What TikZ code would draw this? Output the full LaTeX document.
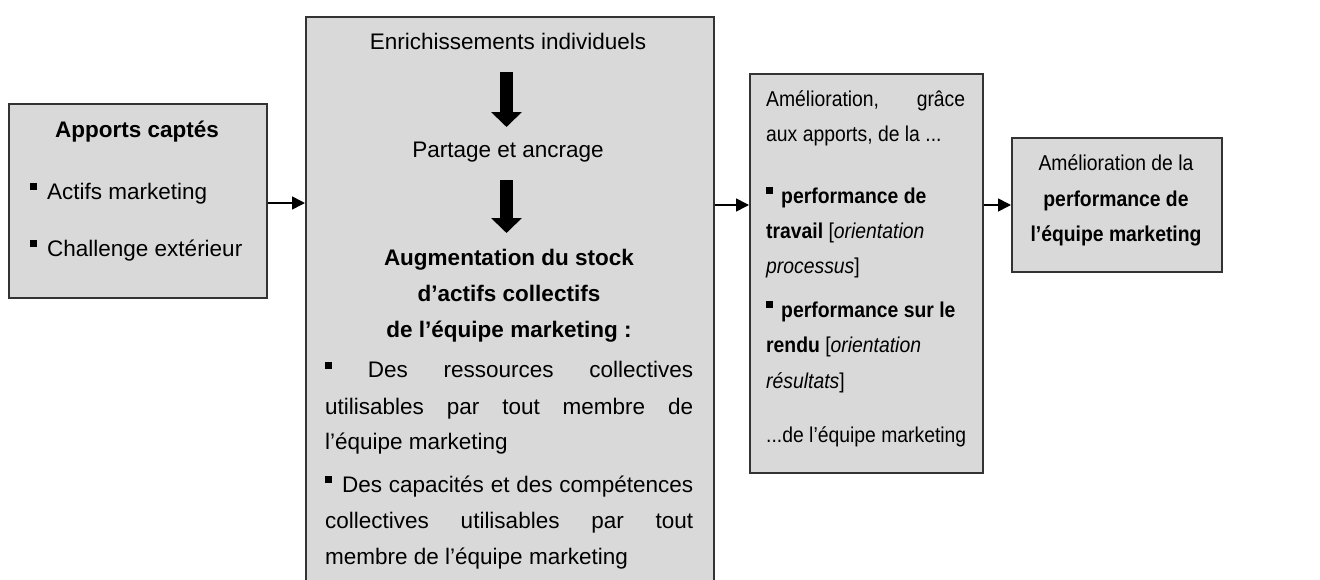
\documentclass[tikz,border=0pt]{standalone}
\usepackage{fontspec}
\setmainfont{Liberation Sans}
\newfontfamily\narrowfont[FakeStretch=0.9]{Liberation Sans}
\usetikzlibrary{arrows.meta}
\definecolor{boxgray}{HTML}{D9D9D9}
\definecolor{boxline}{HTML}{333333}
\newcommand{\bul}{\rule[9pt]{7pt}{7pt}}
\begin{document}
\begin{tikzpicture}[x=1pt,y=-1pt,
  box/.style={draw=boxline, line width=1.5pt, fill=boxgray, inner sep=0pt, anchor=north west},
  txt/.style={inner sep=0pt, anchor=base, font=\fontsize{22.5}{27}\selectfont},
  ltxt/.style={txt, anchor=base west},
  ntxt/.style={inner sep=0pt, anchor=base, font=\narrowfont\fontsize{21.5}{26}\selectfont},
  nltxt/.style={ntxt, anchor=base west},
  flow/.style={line width=1.6pt, -{Triangle[length=13pt,width=13pt]}},
  bigarrow/.style={line width=13pt, -{Triangle[length=15pt,width=30pt]}}]
\useasboundingbox (0,0) rectangle (1320,579);
\clip (0,0) rectangle (1320,579);

% boxes
\node[box, minimum width=258pt, minimum height=194pt] (b1) at (8,103) {};
\node[box, minimum width=408pt, minimum height=600pt] (b2) at (305,16) {};
\node[box, minimum width=233pt, minimum height=399pt] (b3) at (749,73) {};
\node[box, minimum width=210pt, minimum height=134pt] (b4) at (1011,137) {};

% box 1 text
\node[txt] (a1) at (137,137) {\bfseries Apports captés};
\node[ltxt] (a2) at (30,199) {\bul\hspace{10pt}Actifs marketing};
\node[ltxt] (a3) at (30,256) {\bul\hspace{10pt}Challenge extérieur};

% box 2 text
\node[txt] (e1) at (508,49) {Enrichissements individuels};
\node[txt] (e2) at (508,157) {Partage et ancrage};
\node[txt] (e3) at (509,265) {\bfseries Augmentation du stock};
\node[txt] (e4) at (509,301) {\bfseries d’actifs collectifs};
\node[txt] (e5) at (509,337) {\bfseries de l’équipe marketing :};
\node[ltxt] (e6) at (325,377.5) {\hbox to 368pt{\bul\hfill Des\hfill ressources\hfill collectives}};
\node[ltxt] (e7) at (325,414) {\hbox to 368pt{utilisables\hfill par\hfill tout\hfill membre\hfill de}};
\node[ltxt] (e8) at (325,449.5) {l’équipe marketing};
\node[ltxt] (e9) at (325,492) {\hbox to 368pt{\bul\hspace{10pt}Des capacités et des compétences}};
\node[ltxt] (e10) at (325,528) {\hbox to 368pt{collectives\hfill utilisables\hfill par\hfill tout}};
\node[ltxt] (e11) at (325,564) {membre de l’équipe marketing};

% big arrows inside box 2
\coordinate (g1s) at (506.5,72);
\coordinate (g1e) at (506.5,127);
\coordinate (g2s) at (506.5,180);
\coordinate (g2e) at (506.5,233);
\draw[bigarrow] (g1s) -- (g1e);
\draw[bigarrow] (g2s) -- (g2e);

% box 3 text
\node[nltxt] (c1) at (766,106.5) {\hbox to 199pt{Amélioration,\hfill grâce}};
\node[nltxt] (c2) at (766,141.5) {aux apports, de la ...};
\node[nltxt] (c3) at (766,203) {\bul\hspace{8pt}\bfseries performance de};
\node[nltxt] (c4) at (766,238) {\textbf{travail} [\textit{orientation}};
\node[nltxt] (c5) at (766,273) {\textit{processus}]};
\node[nltxt] (c6) at (766,317) {\bul\hspace{8pt}\bfseries performance sur le};
\node[nltxt] (c7) at (766,352) {\textbf{rendu} [\textit{orientation}};
\node[nltxt] (c8) at (766,388) {\textit{résultats}]};
\node[nltxt] (c9) at (766,442) {...de l’équipe marketing};

% box 4 text
\node[ntxt] (d1) at (1116,170) {Amélioration de la};
\node[ntxt] (d2) at (1116,206.5) {\bfseries performance de};
\node[ntxt] (d3) at (1116,241.5) {\bfseries l’équipe marketing};

% connectors
\coordinate (lvl1) at (0,203);
\coordinate (lvl2) at (0,205);
\draw[flow] (b1.east |- lvl1) -- (b2.west |- lvl1);
\draw[flow] (b2.east |- lvl2) -- (b3.west |- lvl2);
\draw[flow] (b3.east |- lvl2) -- (b4.west |- lvl2);
\end{tikzpicture}
\end{document}
